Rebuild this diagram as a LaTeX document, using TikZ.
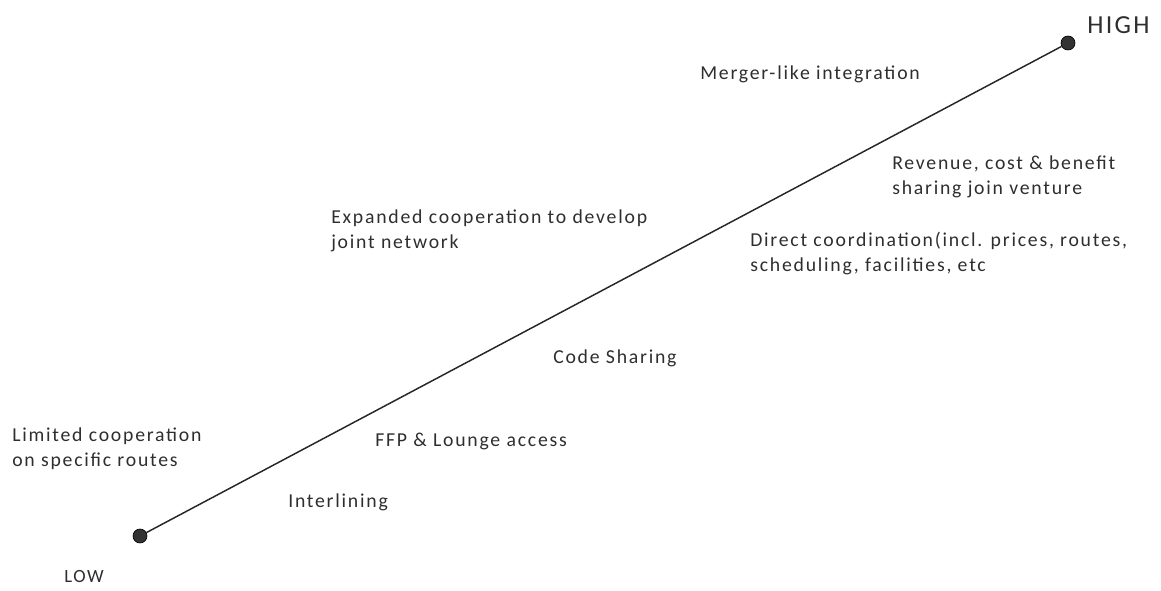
\documentclass[tikz,border=0pt]{standalone}
\usepackage{fontspec}
\setmainfont{Carlito}[LetterSpace=9]
\begin{document}
\begin{tikzpicture}[x=0.75pt,y=-0.75pt,
  lbl/.style={anchor=west,inner sep=0pt,align=left,text=black!82,
    font=\fontsize{14.8pt}{18.75pt}\selectfont},
  endlbl/.style={anchor=west,inner sep=0pt,text=black!82},
  enddot/.style={circle,fill=black!80,draw=black,line width=0.5pt,minimum size=10.5pt,inner sep=0pt},
  scale line/.style={draw=black!85,line width=1.1pt}]
\useasboundingbox (0,0) rectangle (1161,591);
% the two ends of the scale
\node[enddot] (low) at (140,536) {};
\node[enddot] (high) at (1068,43) {};
\draw[scale line] (low) -- (high);
\node[endlbl,font=\fontsize{19.5pt}{22pt}\selectfont] (hightxt) at (1087,25) {HIGH};
\node[endlbl,font=\fontsize{14pt}{16pt}\selectfont] (lowtxt) at (64,577) {LOW};
% forms of cooperation, left of the line
\node[lbl] (limited) at (12,448.5) {Limited cooperation\\on specific routes};
\node[lbl] (expanded) at (331,230.5) {Expanded cooperation to develop\\joint network};
\node[lbl] (merger) at (700,74) {Merger-like integration};
% forms of cooperation, right of the line
\node[lbl] (interlining) at (288,502) {Interlining};
\node[lbl] (ffp) at (375,441) {FFP \& Lounge access};
\node[lbl] (codeshare) at (553,358) {Code Sharing};
\node[lbl] (direct) at (750,253) {Direct coordination(incl. prices, routes,\\scheduling, facilities, etc};
\node[lbl] (revenue) at (892,176.5) {Revenue, cost \& benefit\\sharing join venture};
\end{tikzpicture}
\end{document}
